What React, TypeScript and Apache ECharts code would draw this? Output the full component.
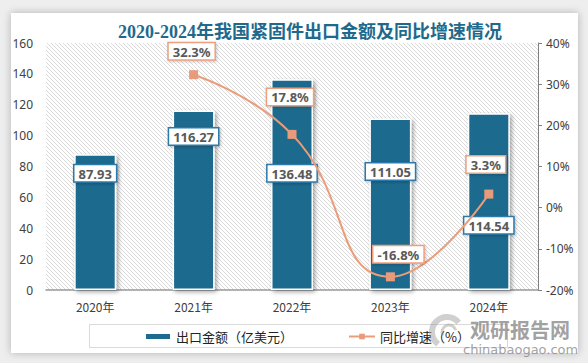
import React, { useEffect, useRef } from "react";
import * as echarts from "echarts";

const categories = ["2020年", "2021年", "2022年", "2023年", "2024年"];
const exportValues = [87.93, 116.27, 136.48, 111.05, 114.54];
const growthValues: (number | null)[] = [null, 32.3, 17.8, -16.8, 3.3];
const barName = "出口金额（亿美元）";
const lineName = "同比增速（%）";
const titleText = "2020-2024年我国紧固件出口金额及同比增速情况";

const barLabelOffsets = [6, 13, 81, 40, 99];
const lineLabelOffsets: [number, number][] = [[0, 0], [-2, -6], [-2, -20], [8, -5], [-3, -12]];

function makeHatch() {
  const c = document.createElement("canvas");
  c.width = 4;
  c.height = 4;
  const ctx = c.getContext("2d")!;
  ctx.fillStyle = "#ffffff";
  ctx.fillRect(0, 0, 4, 4);
  ctx.fillStyle = "#dadada";
  for (let i = 0; i < 4; i++) ctx.fillRect(i, i, 1, 1);
  return c;
}

export default function App() {
  const ref = useRef<HTMLDivElement>(null);
  useEffect(() => {
    if (!ref.current) return;
    const chart = echarts.init(ref.current, undefined, { renderer: "svg" });
    const hatch = makeHatch();
    const axisFont = { color: "#404040", fontSize: 12, fontFamily: "Noto Sans, sans-serif" };
    chart.setOption({
      animation: false,
      title: {
        text: titleText,
        left: 305,
        top: 18,
        textAlign: "center",
        textStyle: {
          color: "#1e6a8d",
          fontSize: 18,
          fontWeight: "bold",
          fontFamily: "Liberation Serif, Noto Sans CJK SC, serif",
        },
      },
      grid: {
        left: 46,
        right: 50,
        top: 43,
        bottom: 73,
        show: true,
        borderWidth: 0,
        backgroundColor: { image: hatch, repeat: "repeat" },
      },
      legend: {
        left: 139,
        top: 325,
        itemGap: 55,
        itemWidth: 26,
        itemHeight: 7,
        textStyle: { color: "#222", fontSize: 13, fontFamily: "Noto Sans CJK SC, sans-serif" },
        data: [
          { name: barName, icon: "rect" },
          { name: lineName },
        ],
      },
      xAxis: {
        type: "category",
        data: categories,
        axisLine: { lineStyle: { color: "#999", width: 1.5 } },
        axisTick: { show: false },
        axisLabel: { ...axisFont, margin: 10, fontFamily: "Noto Sans CJK SC, sans-serif" },
      },
      yAxis: [
        {
          type: "value",
          min: 0,
          max: 160,
          interval: 20,
          splitLine: { show: false },
          axisLine: { show: false },
          axisTick: { show: false },
          axisLabel: { ...axisFont, margin: 13 },
        },
        {
          type: "value",
          min: -20,
          max: 40,
          interval: 10,
          position: "right",
          splitLine: { show: false },
          axisLine: { show: true, lineStyle: { color: "#808080", width: 1 } },
          axisTick: { show: true, inside: false, length: 4, lineStyle: { color: "#808080" } },
          axisLabel: { ...axisFont, margin: 8, formatter: "{value}%" },
        },
      ],
      series: [
        {
          name: barName,
          type: "bar",
          barWidth: 42,
          data: exportValues.map((v, i) => ({
            value: v,
            label: { offset: [0, barLabelOffsets[i]] },
          })),
          itemStyle: {
            color: "#1d6b8e",
            borderColor: "#ffffff",
            borderWidth: 1.5,
            shadowBlur: 4,
            shadowOffsetX: 2,
            shadowOffsetY: 2,
            shadowColor: "rgba(0,0,0,0.35)",
          },
          label: {
            show: true,
            position: "insideTop",
            color: "#595959",
            fontWeight: "bold",
            fontSize: 13,
            fontFamily: "Noto Sans, sans-serif",
            backgroundColor: "#ffffff",
            borderColor: "#2b7aab",
            borderWidth: 1.5,
            padding: [2, 4, 1, 4],
            shadowBlur: 3,
            shadowColor: "rgba(0,0,0,0.25)",
            shadowOffsetX: 1,
            shadowOffsetY: 1,
          },
          z: 2,
        },
        {
          name: lineName,
          type: "line",
          yAxisIndex: 1,
          smooth: 0.5,
          connectNulls: false,
          symbol: "rect",
          symbolSize: 9,
          data: growthValues.map((v, i) => ({
            value: v,
            label: { offset: lineLabelOffsets[i] },
          })),
          lineStyle: { color: "#eb9c78", width: 2 },
          itemStyle: { color: "#e89b7b" },
          label: {
            show: true,
            position: "top",
            formatter: (p: any) => `${p.value}%`,
            color: "#595959",
            fontWeight: "bold",
            fontSize: 13,
            fontFamily: "Noto Sans, sans-serif",
            backgroundColor: "#ffffff",
            borderColor: "#ee9f7e",
            borderWidth: 1.5,
            padding: [2, 4, 1, 4],
            shadowBlur: 3,
            shadowColor: "rgba(0,0,0,0.2)",
            shadowOffsetX: 1,
            shadowOffsetY: 1,
          },
          z: 3,
        },
      ],
      graphic: [
        {
          type: "rect",
          left: 87,
          top: 322,
          shape: { width: 418, height: 23 },
          style: { fill: "none", stroke: "#d9d9d9", lineWidth: 1 },
          z: -1,
        },
        {
          type: "arc",
          shape: { cx: 447, cy: 332, r: 15, startAngle: 2.2, endAngle: 5.6 },
          style: { stroke: "rgba(150,150,150,0.45)", lineWidth: 6, fill: "none" },
          z: 10,
        },
        {
          type: "arc",
          shape: { cx: 449, cy: 332, r: 7, startAngle: 2.6, endAngle: 6.0 },
          style: { stroke: "rgba(150,150,150,0.45)", lineWidth: 3, fill: "none" },
          z: 10,
        },
        {
          type: "text",
          left: 470,
          top: 319,
          style: {
            text: "观研报告网",
            fill: "rgba(120,120,120,0.7)",
            font: "bold 20px 'Noto Sans CJK SC', sans-serif",
          },
          z: 10,
        },
        {
          type: "text",
          left: 463,
          top: 343,
          style: {
            text: "chinabaogao.com",
            fill: "rgba(120,120,120,0.7)",
            font: "13px 'DejaVu Sans', sans-serif",
          },
          z: 10,
        },
      ],
    });
    return () => chart.dispose();
  }, []);

  return (
    <div style={{ position: "absolute", left: 0, top: 0, width: 588, height: 363, background: "#eeeeee", overflow: "hidden" }}>
      <div
        style={{
          position: "absolute",
          left: 11,
          top: 13,
          width: 567,
          height: 340,
          background: "#ffffff",
          boxShadow: "0 0 8px rgba(0,0,0,0.25)",
        }}
      />
      <div ref={ref} style={{ position: "absolute", left: 0, top: 0, width: 588, height: 363 }} />
    </div>
  );
}
